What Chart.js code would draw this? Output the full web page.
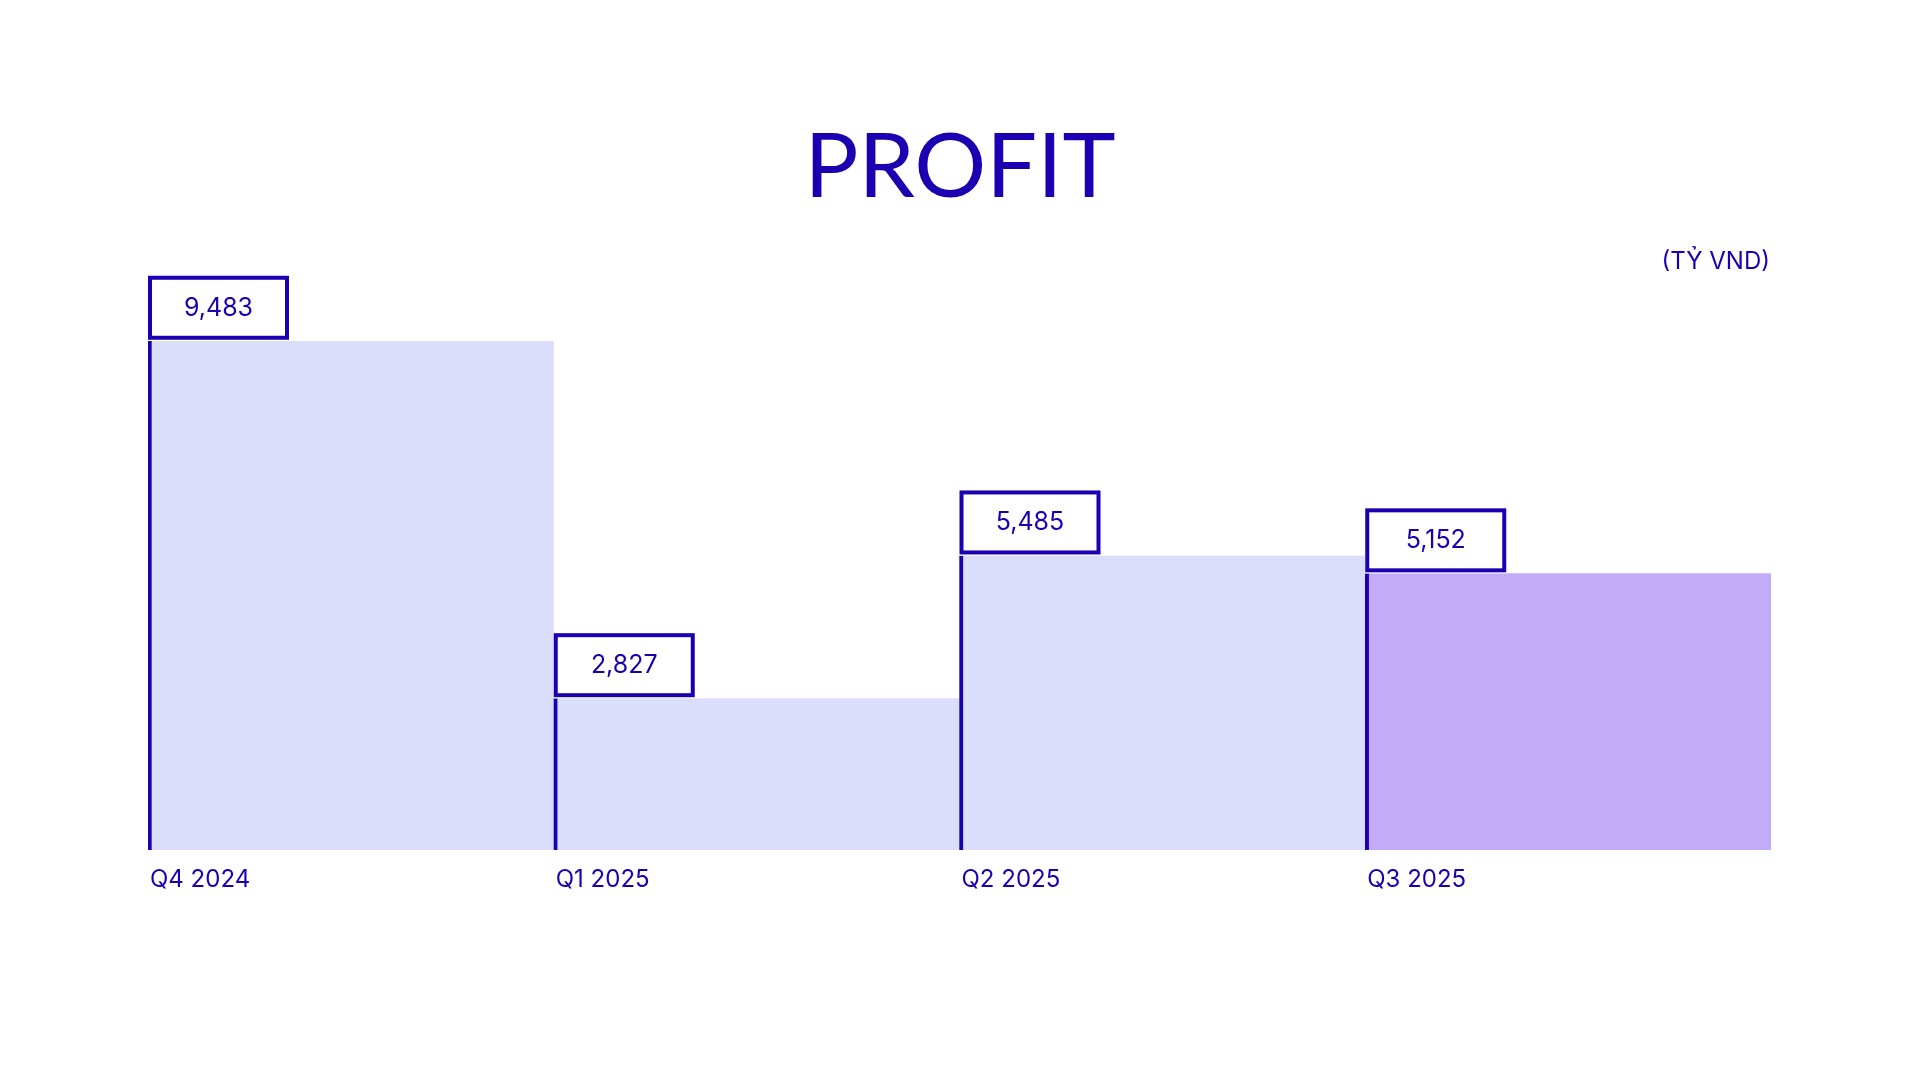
<!DOCTYPE html>
<html>
<head>
<meta charset="utf-8">
<title>Profit</title>
<script src="https://cdn.jsdelivr.net/npm/chart.js@4.4.1/dist/chart.umd.min.js"></script>
<style>
    html, body { margin: 0; padding: 0; background: #ffffff; }
    #wrap { width: 1920px; height: 1080px; position: relative; }
</style>
</head>
<body>
<div id="wrap"><canvas id="profitChart" width="1920" height="1080"></canvas></div>
<script>
const quarters = ['Q4 2024', 'Q1 2025', 'Q2 2025', 'Q3 2025'];
const profitValues = [9483, 2827, 5485, 5152];
const barColors = ['#dadefa', '#dadefa', '#dadefa', '#c4abf8'];
const chartTitle = 'PROFIT';
const unitLabel = '(TỶ VND)';

const INK = '#1a00b0';

// draws the title, unit, value boxes and quarter labels on top of the bars
const labelPlugin = {
    id: 'profitLabels',
    afterDatasetsDraw(chart) {
        const ctx = chart.ctx;
        const area = chart.chartArea;
        const bars = chart.getDatasetMeta(0).data;

        ctx.save();
        ctx.fillStyle = INK;
        ctx.textBaseline = 'alphabetic';

        ctx.font = '400 90px Lato';
        ctx.textAlign = 'center';
        ctx.fillText(chartTitle, 960, 197);

        ctx.font = '400 24px Inter';
        ctx.textAlign = 'right';
        ctx.fillText(unitLabel, area.right - 1, 269);

        bars.forEach((bar, i) => {
            const left = bar.x - bar.width / 2;
            const boxW = 141, boxH = 65;
            const boxTop = bar.y - boxH;

            ctx.fillStyle = '#ffffff';
            ctx.fillRect(left, boxTop, boxW, boxH);
            ctx.strokeStyle = INK;
            ctx.lineWidth = 4;
            ctx.strokeRect(left + 2, boxTop + 2, boxW - 4, boxH - 5);

            ctx.fillStyle = INK;
            ctx.font = '400 25px Inter';
            ctx.textAlign = 'center';
            ctx.textBaseline = 'middle';
            ctx.fillText(profitValues[i].toLocaleString('en-US'), left + boxW / 2, boxTop + boxH / 2);

            ctx.textAlign = 'left';
            ctx.textBaseline = 'alphabetic';
            ctx.font = '400 24px Inter';
            ctx.fillText(quarters[i], left + 2, area.bottom + 37);
        });
        ctx.restore();
    }
};

const chart = new Chart(document.getElementById('profitChart').getContext('2d'), {
    type: 'bar',
    data: {
        labels: quarters,
        datasets: [{
            data: profitValues,
            backgroundColor: barColors,
            borderColor: INK,
            borderWidth: { left: 4, top: 0, right: 0, bottom: 0 },
            borderSkipped: false,
            categoryPercentage: 1.0,
            barPercentage: 1.0
        }]
    },
    options: {
        responsive: false,
        animation: false,
        layout: {
            padding: { left: 148, right: 149, top: 313, bottom: 230 }
        },
        plugins: {
            legend: { display: false },
            tooltip: { enabled: false }
        },
        scales: {
            x: { display: false },
            y: { display: false, min: 0, max: 10000 }
        }
    },
    plugins: [labelPlugin]
});
</script>
</body>
</html>
